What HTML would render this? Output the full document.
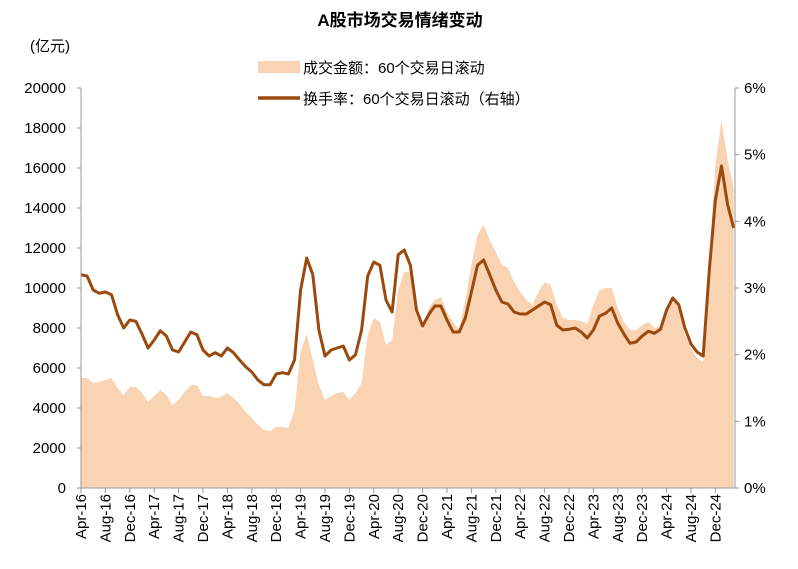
<!DOCTYPE html>
<html><head><meta charset="utf-8"><style>
body{margin:0;background:#fff}
svg{display:block;font-family:"Liberation Sans","Noto Sans CJK SC",sans-serif}
</style></head><body>
<svg id="c" width="798" height="569">
<text x="400" y="26" text-anchor="middle" font-size="17" font-weight="bold">A股市场交易情绪变动</text>
<text x="30" y="51" font-size="15">(亿元)</text>
<rect x="258" y="61" width="42" height="12" fill="#f9d3b2"/>
<text x="303" y="73" font-size="15">成交金额：60个交易日滚动</text>
<line x1="258" y1="98" x2="300" y2="98" stroke="#9a4a0e" stroke-width="3.5"/>
<text x="303" y="104" font-size="15">换手率：60个交易日滚动（右轴）</text>
<g id="plot"></g>
</svg>
<script>
const areaValues=[5500,5500,5250,5300,5400,5500,5000,4650,5050,5050,4750,4300,4600,4900,4650,4150,4400,4800,5150,5150,4600,4600,4500,4550,4750,4500,4200,3800,3500,3150,2900,2850,3050,3050,3000,3900,6800,7700,6400,5150,4400,4600,4750,4800,4400,4750,5250,7650,8500,8300,7150,7400,9900,10800,10800,8900,7900,9000,9400,9550,8800,8300,7900,9400,11150,12650,13150,12400,11800,11150,11000,10300,9800,9400,9150,9800,10300,10150,9150,8500,8400,8400,8350,8200,9150,9900,10000,10000,9000,8300,7900,7900,8150,8300,8000,8100,9000,9600,9000,7650,7000,6500,6300,11400,16150,18400,16400,15050];
const turnoverValues=[3.20,3.18,2.97,2.92,2.94,2.90,2.60,2.40,2.52,2.50,2.31,2.10,2.22,2.36,2.28,2.07,2.04,2.19,2.34,2.30,2.07,1.98,2.03,1.98,2.10,2.03,1.92,1.82,1.74,1.62,1.55,1.55,1.71,1.73,1.71,1.92,2.97,3.45,3.20,2.37,1.98,2.07,2.10,2.13,1.92,2.00,2.37,3.18,3.39,3.34,2.82,2.64,3.50,3.57,3.34,2.67,2.43,2.60,2.73,2.73,2.52,2.34,2.34,2.55,2.94,3.34,3.42,3.20,2.97,2.79,2.76,2.64,2.61,2.61,2.67,2.73,2.79,2.75,2.44,2.37,2.38,2.40,2.34,2.25,2.37,2.58,2.62,2.70,2.47,2.31,2.17,2.19,2.28,2.35,2.32,2.38,2.67,2.85,2.75,2.40,2.16,2.04,1.98,3.27,4.32,4.83,4.25,3.90];
const leftTicks=[0,2000,4000,6000,8000,10000,12000,14000,16000,18000,20000];
const rightTicks=[0,1,2,3,4,5,6];
const xLabels=["Apr-16","Aug-16","Dec-16","Apr-17","Aug-17","Dec-17","Apr-18","Aug-18","Dec-18","Apr-19","Aug-19","Dec-19","Apr-20","Aug-20","Dec-20","Apr-21","Aug-21","Dec-21","Apr-22","Aug-22","Dec-22","Apr-23","Aug-23","Dec-23","Apr-24","Aug-24","Dec-24"];
const X0=81,X1=735,Y0=488,Y1=88;
const xm=m=>X0+m*6.1;
const yl=v=>Y0-(v/20000)*(Y0-Y1);
const yr=p=>Y0-(p/6)*(Y0-Y1);
const g=document.getElementById('plot');const NS='http://www.w3.org/2000/svg';
function mk(t,a){const e=document.createElementNS(NS,t);for(const k in a)e.setAttribute(k,a[k]);g.appendChild(e);return e;}
let d='M'+xm(0)+','+Y0;
areaValues.forEach((v,i)=>{d+=' L'+xm(i).toFixed(1)+','+yl(v).toFixed(1);});
d+=' L'+xm(areaValues.length-1).toFixed(1)+','+Y0+' Z';
const ar=mk('path',{d:d,fill:'#f9d3b2'});


let ld='';
turnoverValues.forEach((p,i)=>{ld+=(i?' L':'M')+xm(i).toFixed(1)+','+yr(p).toFixed(1);});
const ln=mk('path',{d:ld,fill:'none',stroke:'#9a4a0e','stroke-width':3,'stroke-linejoin':'round'});


const ax=mk('path',{d:`M${X0},${Y1} L${X0},${Y0} L${X1},${Y0} L${X1},${Y1}`,fill:'none',stroke:'#999','stroke-width':1});


leftTicks.forEach(v=>{
 mk('line',{x1:X0-4,x2:X0,y1:yl(v),y2:yl(v),stroke:'#999'});
 const t=mk('text',{x:66,y:yl(v)+5,'text-anchor':'end','font-size':15});t.textContent=v;
 
 
});
rightTicks.forEach(p=>{
 mk('line',{x1:X1,x2:X1+4,y1:yr(p),y2:yr(p),stroke:'#999'});
 const t=mk('text',{x:744,y:yr(p)+5,'font-size':15});t.textContent=p+'%';
 
 
});
xLabels.forEach((s,i)=>{
 const x=xm(i*4);
 mk('line',{x1:x,x2:x,y1:Y0,y2:Y0+5,stroke:'#999'});
 const t=mk('text',{x:0,y:0,'text-anchor':'end','font-size':15,transform:`translate(${x+5},${Y0+6}) rotate(-90)`});t.textContent=s;
 
 
});
</script>
</body></html>
